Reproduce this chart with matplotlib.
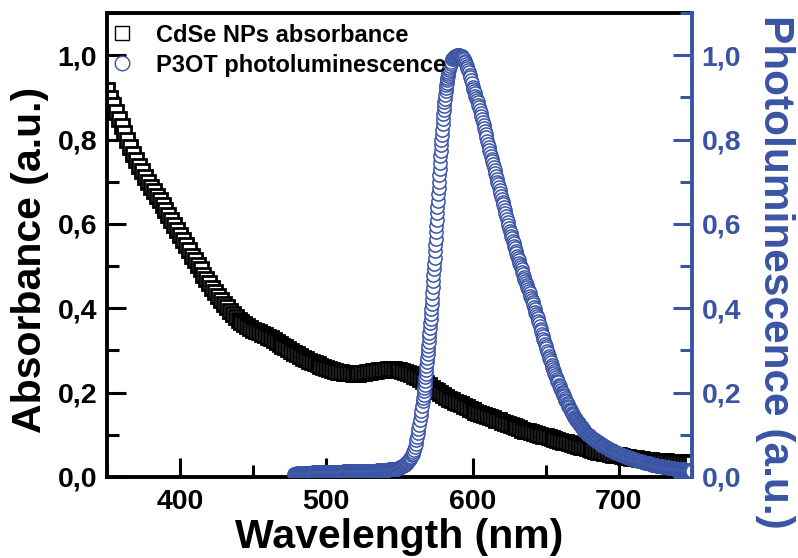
import numpy as np
import matplotlib
matplotlib.use('Agg')
import matplotlib.pyplot as plt
from matplotlib.ticker import MultipleLocator, FuncFormatter

plt.rcParams['font.family'] = ['Liberation Sans', 'DejaVu Sans']
plt.rcParams['font.weight'] = 'bold'

BLUE = '#3a54a4'

# CdSe NPs absorbance, every 2 nm from 350 to 750
abs_nm = np.arange(350, 751, 2)
abs_val = [
    0.917, 0.899, 0.882, 0.865, 0.848, 0.832, 0.815, 0.798, 0.782, 0.765,
    0.752, 0.738, 0.725, 0.712, 0.699, 0.688, 0.677, 0.667, 0.656, 0.645,
    0.634, 0.622, 0.610, 0.598, 0.585, 0.573, 0.561, 0.549, 0.537, 0.525,
    0.514, 0.503, 0.492, 0.480, 0.469, 0.459, 0.449, 0.439, 0.429, 0.420,
    0.411, 0.403, 0.394, 0.386, 0.379, 0.372, 0.367, 0.362, 0.357, 0.353,
    0.349, 0.346, 0.343, 0.339, 0.336, 0.333, 0.329, 0.325, 0.320, 0.316,
    0.311, 0.307, 0.303, 0.299, 0.295, 0.291, 0.287, 0.283, 0.279, 0.276,
    0.273, 0.270, 0.267, 0.264, 0.261, 0.259, 0.256, 0.254, 0.252, 0.250,
    0.248, 0.247, 0.246, 0.246, 0.245, 0.245, 0.245, 0.246, 0.247, 0.249,
    0.250, 0.251, 0.252, 0.253, 0.254, 0.254, 0.255, 0.255, 0.255, 0.254,
    0.253, 0.251, 0.249, 0.246, 0.243, 0.240, 0.236, 0.232, 0.227, 0.222,
    0.217, 0.212, 0.207, 0.203, 0.198, 0.194, 0.190, 0.186, 0.182, 0.178,
    0.175, 0.172, 0.168, 0.165, 0.162, 0.158, 0.155, 0.152, 0.150, 0.147,
    0.144, 0.142, 0.139, 0.136, 0.134, 0.131, 0.128, 0.126, 0.123, 0.120,
    0.118, 0.115, 0.112, 0.110, 0.108, 0.106, 0.104, 0.102, 0.100, 0.098,
    0.096, 0.094, 0.092, 0.090, 0.088, 0.086, 0.084, 0.082, 0.080, 0.078,
    0.076, 0.074, 0.072, 0.070, 0.068, 0.066, 0.064, 0.062, 0.060, 0.059,
    0.057, 0.056, 0.055, 0.053, 0.052, 0.051, 0.050, 0.048, 0.047, 0.046,
    0.045, 0.044, 0.043, 0.042, 0.041, 0.040, 0.040, 0.039, 0.038, 0.038,
    0.037, 0.037, 0.036, 0.036, 0.036, 0.035, 0.035, 0.035, 0.034, 0.034,
    0.034,
]

# P3OT photoluminescence (normalised); sampling is finer where the peak rises
pl_nm = np.concatenate([
    np.arange(478, 557.01, 0.5),    # 159
    np.arange(557.5, 566, 0.5),     # 17
    np.arange(566, 584.01, 0.25),   # 73
    np.arange(584.5, 700.01, 0.5),  # 232
    np.arange(700.5, 750.01, 0.5),  # 100
])
pl_val = [
    # 478-557
    0.008, 0.008, 0.008, 0.008, 0.009, 0.009, 0.009, 0.009, 0.009, 0.009,
    0.009, 0.009, 0.010, 0.010, 0.010, 0.010, 0.010, 0.010, 0.010, 0.010,
    0.010, 0.010, 0.010, 0.010, 0.010, 0.010, 0.011, 0.011, 0.011, 0.011,
    0.011, 0.011, 0.011, 0.011, 0.011, 0.011, 0.011, 0.011, 0.011, 0.011,
    0.011, 0.011, 0.011, 0.011, 0.012, 0.012, 0.012, 0.012, 0.012, 0.012,
    0.012, 0.012, 0.012, 0.012, 0.012, 0.012, 0.012, 0.012, 0.012, 0.012,
    0.012, 0.012, 0.012, 0.012, 0.012, 0.012, 0.012, 0.012, 0.013, 0.013,
    0.013, 0.013, 0.013, 0.013, 0.013, 0.013, 0.013, 0.013, 0.013, 0.013,
    0.013, 0.013, 0.013, 0.013, 0.013, 0.013, 0.013, 0.013, 0.014, 0.014,
    0.014, 0.014, 0.014, 0.014, 0.014, 0.014, 0.014, 0.014, 0.014, 0.014,
    0.014, 0.014, 0.014, 0.014, 0.015, 0.015, 0.015, 0.015, 0.015, 0.015,
    0.015, 0.015, 0.015, 0.015, 0.016, 0.016, 0.016, 0.016, 0.016, 0.016,
    0.016, 0.016, 0.016, 0.016, 0.017, 0.017, 0.017, 0.017, 0.017, 0.017,
    0.018, 0.018, 0.018, 0.018, 0.019, 0.019, 0.019, 0.019, 0.020, 0.020,
    0.020, 0.020, 0.021, 0.021, 0.022, 0.023, 0.024, 0.025, 0.026, 0.027,
    0.028, 0.029, 0.031, 0.032, 0.034, 0.036, 0.038, 0.040, 0.042,
    # 557.5-565.5
    0.044, 0.047, 0.051, 0.055, 0.060, 0.065, 0.072, 0.079, 0.087, 0.095,
    0.104, 0.114, 0.124, 0.135, 0.146, 0.157, 0.168,
    # 566-584
    0.180, 0.188, 0.195, 0.203, 0.211, 0.219, 0.228, 0.236,
    0.245, 0.254, 0.263, 0.273, 0.282, 0.291, 0.301, 0.310,
    0.320, 0.331, 0.342, 0.353, 0.364, 0.375, 0.387, 0.398,
    0.410, 0.423, 0.437, 0.450, 0.464, 0.478, 0.492, 0.506,
    0.520, 0.535, 0.550, 0.565, 0.580, 0.595, 0.610, 0.625,
    0.640, 0.655, 0.670, 0.685, 0.700, 0.715, 0.730, 0.745,
    0.760, 0.773, 0.786, 0.798, 0.811, 0.823, 0.836, 0.848,
    0.860, 0.869, 0.879, 0.888, 0.897, 0.905, 0.914, 0.922,
    0.930, 0.935, 0.940, 0.945, 0.950, 0.955, 0.960, 0.965,
    0.970,
    # 584.5-600
    0.975, 0.980, 0.985, 0.990, 0.992, 0.994, 0.996, 0.998, 0.999, 0.999,
    1.000, 1.000, 1.000, 1.000, 0.999, 0.998, 0.997, 0.995, 0.993, 0.990,
    0.987, 0.983, 0.979, 0.975, 0.970, 0.965, 0.960, 0.954, 0.948, 0.941,
    0.933, 0.925,
    # 600.5-700
    0.920, 0.915, 0.910, 0.904, 0.899, 0.893, 0.888, 0.882, 0.876, 0.870,
    0.863, 0.856, 0.849, 0.842, 0.835, 0.827, 0.820, 0.812, 0.805, 0.797,
    0.790, 0.783, 0.776, 0.769, 0.762, 0.755, 0.748, 0.741, 0.734, 0.727,
    0.721, 0.714, 0.707, 0.700, 0.694, 0.687, 0.680, 0.673, 0.667, 0.660,
    0.653, 0.646, 0.639, 0.632, 0.625, 0.618, 0.611, 0.604, 0.597, 0.590,
    0.584, 0.578, 0.572, 0.566, 0.560, 0.554, 0.548, 0.542, 0.536, 0.530,
    0.525, 0.519, 0.514, 0.508, 0.503, 0.497, 0.492, 0.486, 0.481, 0.475,
    0.470, 0.465, 0.460, 0.455, 0.450, 0.445, 0.440, 0.435, 0.430, 0.425,
    0.420, 0.414, 0.409, 0.403, 0.398, 0.392, 0.387, 0.381, 0.376, 0.370,
    0.364, 0.358, 0.352, 0.346, 0.340, 0.334, 0.328, 0.322, 0.316, 0.310,
    0.305, 0.299, 0.294, 0.288, 0.283, 0.277, 0.272, 0.266, 0.261, 0.255,
    0.251, 0.246, 0.242, 0.237, 0.233, 0.228, 0.224, 0.219, 0.215, 0.210,
    0.206, 0.202, 0.198, 0.194, 0.191, 0.187, 0.183, 0.179, 0.176, 0.172,
    0.169, 0.165, 0.162, 0.159, 0.156, 0.152, 0.149, 0.146, 0.143, 0.140,
    0.138, 0.135, 0.133, 0.130, 0.128, 0.125, 0.123, 0.120, 0.118, 0.115,
    0.113, 0.111, 0.109, 0.107, 0.105, 0.103, 0.102, 0.100, 0.099, 0.097,
    0.096, 0.094, 0.093, 0.092, 0.091, 0.089, 0.088, 0.087, 0.086, 0.085,
    0.084, 0.082, 0.081, 0.080, 0.079, 0.077, 0.076, 0.075, 0.074, 0.073,
    0.072, 0.071, 0.070, 0.069, 0.068, 0.067, 0.066, 0.065, 0.064, 0.063,
    0.062, 0.061, 0.061, 0.060, 0.059, 0.058, 0.058, 0.057, 0.056, 0.055,
    # 700.5-750
    0.055, 0.054, 0.053, 0.052, 0.052, 0.051, 0.050, 0.049, 0.049, 0.048,
    0.048, 0.047, 0.047, 0.046, 0.045, 0.044, 0.044, 0.043, 0.043, 0.042,
    0.042, 0.041, 0.041, 0.040, 0.040, 0.039, 0.039, 0.038, 0.038, 0.037,
    0.037, 0.036, 0.036, 0.035, 0.035, 0.034, 0.034, 0.033, 0.033, 0.032,
    0.032, 0.031, 0.031, 0.030, 0.030, 0.029, 0.029, 0.028, 0.028, 0.028,
    0.028, 0.027, 0.027, 0.026, 0.026, 0.025, 0.025, 0.025, 0.025, 0.024,
    0.024, 0.024, 0.024, 0.023, 0.023, 0.023, 0.023, 0.022, 0.022, 0.022,
    0.022, 0.021, 0.021, 0.021, 0.021, 0.020, 0.020, 0.020, 0.020, 0.019,
    0.019, 0.019, 0.019, 0.018, 0.018, 0.018, 0.018, 0.018, 0.018, 0.017,
    0.017, 0.017, 0.017, 0.017, 0.017, 0.016, 0.016, 0.016, 0.016, 0.015,
]

x_ticks = [400, 500, 600, 700]
y_ticks = [0.0, 0.2, 0.4, 0.6, 0.8, 1.0]

comma = FuncFormatter(lambda v, p: f'{v:.1f}'.replace('.', ','))

fig = plt.figure(figsize=(7.98, 5.58), dpi=100)
ax = fig.add_axes([0.134, 0.1452, 0.7331, 0.8315])
ax2 = ax.twinx()

sq, = ax.plot(abs_nm, abs_val, ls='none', marker='s', ms=9.5, mfc='white',
              mec='black', mew=2.0, label='CdSe NPs absorbance')
ci, = ax2.plot(pl_nm, pl_val, ls='none', marker='o', ms=9.5, mfc='white',
               mec=BLUE, mew=1.1, label='P3OT photoluminescence')

ax.set_xlim(350, 750)
ax.set_ylim(0, 1.10)
ax2.set_ylim(0, 1.10)

ax.set_xticks(x_ticks)
ax.xaxis.set_minor_locator(MultipleLocator(50))
ax.set_yticks(y_ticks)
ax.yaxis.set_minor_locator(MultipleLocator(0.1))
ax.yaxis.set_major_formatter(comma)
ax2.set_yticks(y_ticks)
ax2.yaxis.set_minor_locator(MultipleLocator(0.1))
ax2.yaxis.set_major_formatter(comma)

for a in (ax, ax2):
    for s in a.spines.values():
        s.set_linewidth(2.8)
ax.spines['right'].set_visible(False)
for side in ('left', 'top', 'bottom'):
    ax2.spines[side].set_visible(False)
ax2.spines['right'].set_color(BLUE)

ax.tick_params(axis='both', which='major', direction='in', length=14, width=2.2,
               labelsize=20.5, pad=7)
ax.tick_params(axis='both', which='minor', direction='in', length=8.5, width=2.2)
ax.tick_params(axis='x', which='major', pad=9)
ax.tick_params(axis='y', which='both', right=False)
ax.tick_params(axis='x', which='both', top=False)
ax2.tick_params(axis='y', which='major', direction='in', length=14, width=2.2,
                labelsize=20.5, pad=7, colors=BLUE)
ax2.tick_params(axis='y', which='minor', direction='in', length=8.5, width=2.2,
                colors=BLUE)

ax.set_xlabel('Wavelength (nm)', fontsize=29.5, fontweight='bold', va='center')
ax.xaxis.set_label_coords(0.5, -0.129)
ax.set_ylabel('Absorbance (a.u.)', fontsize=29.5, fontweight='bold',
              rotation=90, ha='center', va='center', rotation_mode='default')
ax.yaxis.set_label_coords(-0.132, 0.468)
ax2.set_ylabel('Photoluminescence (a.u.)', fontsize=30.5, fontweight='bold',
               color=BLUE, rotation=270, ha='center', va='center',
               rotation_mode='default')
ax2.yaxis.set_label_coords(1.142, 0.442)

leg = ax2.legend(handles=[sq, ci], loc='upper left',
                 bbox_to_anchor=(0.005, 0.977), frameon=False, fontsize=17,
                 markerscale=1.1, handlelength=1.0, handletextpad=0.95,
                 labelspacing=0.29, borderpad=0, borderaxespad=0)
leg.set_zorder(5)
for h in leg.legend_handles:
    h.set_markeredgewidth(1.0)

fig.savefig('out.png', dpi=100)
